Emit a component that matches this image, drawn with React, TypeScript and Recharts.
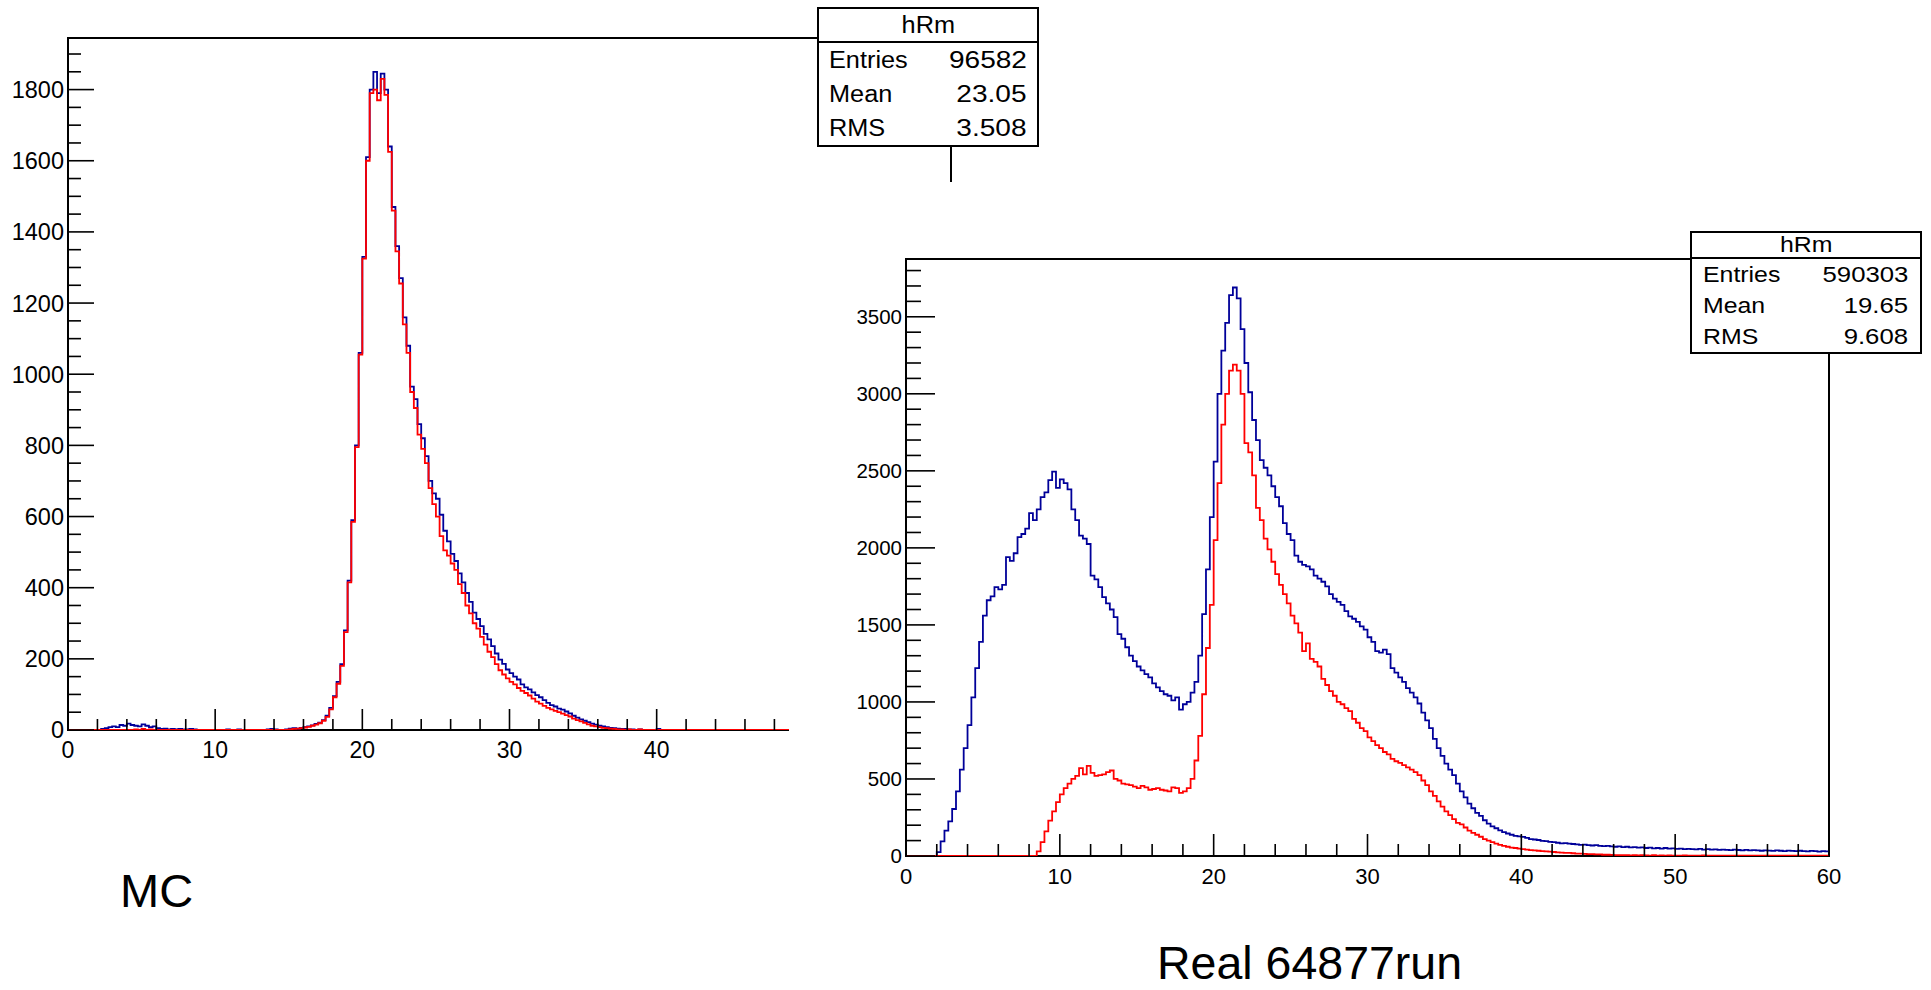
import React from "react";
import { LineChart, Line, XAxis, YAxis, ReferenceArea } from "recharts";

// bin width of both histograms, x runs 0..60
const BIN = 0.25;
const X_MAX = 60;

// MC sample (left pad), one value per bin starting at x = 0
const mcBlue = [
  0, 0, 0, 0, 0, 0, 0, 0, 0, 3, 5, 8, 10, 8, 14, 12, 18, 14, 12, 10, 16, 12, 8, 10, 5, 3, 4, 2, 3, 2, 3, 2, 2, 3, 2, 0, 0, 0, 0, 0,
  0, 0, 0, 2, 0, 0, 2, 0, 0, 0, 0, 0, 0, 0, 2, 3, 2, 0, 0, 2, 4, 5, 4, 6, 8, 10, 13, 17, 21, 28, 40, 62, 95, 135, 185, 280, 420, 590, 800, 1060,
  1330, 1610, 1800, 1850, 1790, 1845, 1800, 1640, 1470, 1360, 1270, 1160, 1080, 965, 930, 860, 820, 770, 700, 665, 650, 605, 560, 530, 495, 475, 440, 415, 385, 360, 330, 312, 292, 270, 255, 236, 215, 198, 186, 170,
  160, 150, 142, 128, 120, 114, 106, 98, 92, 84, 76, 70, 66, 60, 57, 52, 47, 40, 35, 30, 26, 22, 18, 15, 12, 10, 8, 6, 5, 4, 3, 3, 2, 2, 0, 2, 0, 0, 0, 0,
  3, 0, 0, 0, 0, 0, 0, 0, 0, 0, 0, 0, 0, 0, 0, 0, 0, 0, 0, 0, 0, 0, 0, 0, 0, 0, 0, 0, 0, 0, 0, 0, 0, 0, 0, 0, 0, 0, 0, 0,
  0, 0, 0, 0, 0, 0, 0, 0, 0, 0, 0, 0, 0, 0, 0, 0, 0, 0, 0, 0, 0, 0, 0, 0, 0, 0, 0, 0, 0, 0, 0, 0, 0, 0, 0, 0, 0, 0, 0, 0,
];
const mcRed = [
  0, 0, 0, 0, 0, 0, 0, 0, 0, 0, 0, 0, 0, 0, 0, 0, 0, 0, 2, 0, 3, 0, 2, 0, 0, 0, 0, 0, 0, 0, 0, 0, 0, 0, 0, 0, 0, 0, 0, 0,
  0, 0, 0, 0, 0, 0, 0, 0, 0, 0, 0, 0, 0, 0, 0, 0, 0, 0, 0, 0, 2, 3, 4, 5, 7, 9, 12, 15, 19, 26, 37, 58, 92, 130, 180, 275, 415, 585, 795, 1055,
  1325, 1600, 1790, 1800, 1770, 1830, 1785, 1625, 1460, 1345, 1255, 1140, 1060, 950, 905, 830, 790, 750, 680, 635, 600, 545, 505, 490, 468, 450, 410, 385, 350, 328, 300, 285, 262, 240, 220, 205, 185, 168, 156, 145,
  135, 128, 118, 110, 104, 97, 88, 80, 74, 68, 62, 58, 54, 50, 46, 42, 38, 32, 28, 24, 20, 16, 12, 10, 8, 6, 5, 4, 3, 2, 2, 0, 2, 0, 0, 2, 0, 0, 0, 0,
  0, 0, 0, 0, 0, 0, 0, 0, 0, 0, 0, 0, 0, 0, 0, 0, 0, 0, 0, 0, 0, 0, 0, 0, 0, 0, 0, 0, 0, 0, 0, 0, 0, 0, 0, 0, 0, 0, 0, 0,
  0, 0, 0, 0, 0, 0, 0, 0, 0, 0, 0, 0, 0, 0, 0, 0, 0, 0, 0, 0, 0, 0, 0, 0, 0, 0, 0, 0, 0, 0, 0, 0, 0, 0, 0, 0, 0, 0, 0, 0,
];

// real data, run 64877 (right pad)
const realBlue = [
  0, 0, 0, 0, 0, 0, 0, 0, 25, 95, 165, 225, 305, 420, 560, 700, 850, 1030, 1220, 1390, 1560, 1660, 1685, 1745, 1730, 1760, 1940, 1915, 1965, 2070, 2090, 2125, 2225, 2180, 2250, 2330, 2360, 2440, 2495, 2390,
  2445, 2420, 2380, 2250, 2180, 2080, 2060, 2025, 1820, 1795, 1745, 1680, 1640, 1600, 1550, 1440, 1410, 1355, 1300, 1265, 1230, 1205, 1180, 1160, 1120, 1095, 1070, 1050, 1040, 1010, 1030, 950, 985, 1000, 1060, 1130, 1300, 1570, 1860, 2200,
  2560, 3000, 3280, 3460, 3640, 3690, 3620, 3420, 3200, 3010, 2830, 2700, 2570, 2520, 2470, 2400, 2330, 2270, 2160, 2090, 2050, 1950, 1910, 1890, 1880, 1860, 1820, 1800, 1780, 1750, 1700, 1670, 1650, 1630, 1590, 1555, 1540, 1520, 1490, 1470,
  1420, 1390, 1330, 1320, 1340, 1310, 1220, 1190, 1160, 1130, 1090, 1060, 1030, 990, 930, 880, 830, 760, 700, 650, 600, 560, 525, 470, 420, 380, 340, 310, 280, 260, 232, 210, 192, 180, 166, 155, 146, 138, 131, 128,
  124, 118, 110, 107, 104, 98, 96, 92, 90, 86, 82, 84, 80, 78, 76, 72, 74, 70, 68, 70, 66, 64, 66, 62, 60, 62, 58, 60, 56, 58, 54, 56, 52, 54, 50, 52, 48, 52, 48, 50,
  46, 48, 44, 46, 45, 43, 46, 42, 44, 41, 43, 40, 42, 40, 38, 41, 39, 37, 40, 36, 38, 36, 34, 37, 35, 33, 36, 34, 32, 35, 33, 31, 34, 32, 30, 33, 31, 29, 32, 30,
];
const realRed = [
  0, 0, 0, 0, 0, 0, 0, 0, 0, 0, 0, 0, 0, 0, 0, 0, 0, 0, 0, 0, 0, 0, 0, 0, 0, 0, 0, 0, 0, 0, 0, 0, 0, 0, 30, 90, 160, 230, 290, 350,
  400, 440, 470, 500, 520, 570, 530, 585, 540, 520, 525, 530, 545, 555, 500, 490, 470, 465, 460, 450, 440, 455, 445, 430, 435, 440, 430, 425, 420, 445, 440, 410, 420, 440, 500, 620, 780, 1050, 1350, 1630,
  2050, 2420, 2800, 3000, 3150, 3190, 3150, 3000, 2680, 2620, 2470, 2260, 2180, 2060, 1990, 1910, 1830, 1760, 1700, 1640, 1560, 1510, 1450, 1330, 1380, 1280, 1260, 1230, 1150, 1110, 1070, 1040, 1000, 985, 960, 940, 890, 865, 830, 810,
  770, 745, 720, 700, 675, 660, 630, 615, 605, 590, 575, 560, 545, 525, 490, 460, 420, 390, 355, 320, 290, 265, 240, 215, 205, 185, 165, 150, 138, 125, 110, 100, 90, 80, 72, 66, 60, 55, 52, 48,
  44, 42, 38, 36, 34, 32, 30, 28, 26, 24, 22, 20, 20, 18, 16, 15, 14, 12, 12, 10, 10, 8, 8, 7, 6, 6, 5, 6, 4, 5, 4, 5, 4, 3, 5, 3, 4, 3, 4, 3,
  3, 2, 4, 3, 2, 3, 2, 4, 3, 2, 3, 2, 2, 3, 2, 3, 2, 2, 3, 2, 2, 3, 2, 2, 2, 3, 2, 2, 3, 2, 2, 2, 3, 2, 2, 2, 3, 2, 2, 2,
];

const xTicks = [0, 2, 4, 6, 8, 10, 12, 14, 16, 18, 20, 22, 24, 26, 28, 30, 32, 34, 36, 38, 40, 42, 44, 46, 48, 50, 52, 54, 56, 58, 60];
const mcYTicks = [
  0, 50, 100, 150, 200, 250, 300, 350, 400, 450, 500, 550, 600, 650, 700, 750, 800, 850, 900, 950,
  1000, 1050, 1100, 1150, 1200, 1250, 1300, 1350, 1400, 1450, 1500, 1550, 1600, 1650, 1700, 1750, 1800, 1850, 1900,
];
const realYTicks = [
  0, 100, 200, 300, 400, 500, 600, 700, 800, 900, 1000, 1100, 1200, 1300, 1400, 1500, 1600, 1700, 1800, 1900,
  2000, 2100, 2200, 2300, 2400, 2500, 2600, 2700, 2800, 2900, 3000, 3100, 3200, 3300, 3400, 3500, 3600, 3700, 3800,
];

const mcStats = [["Entries", "96582"], ["Mean", "23.05"], ["RMS", "3.508"]];
const realStats = [["Entries", "590303"], ["Mean", "19.65"], ["RMS", "9.608"]];

const FONT = '"Liberation Sans", Arial, Helvetica, sans-serif';
const BLUE = "#000099";
const RED = "#ff0000";

const toRows = (blue: number[], red: number[]) => {
  const rows = blue.map((b, i) => ({ x: i * BIN, blue: b, red: red[i] }));
  // closing edge of the last bin
  rows.push({ x: X_MAX, blue: blue[blue.length - 1], red: red[red.length - 1] });
  return rows;
};

const makeYTick = (major: number, majorLen: number, minorLen: number, fontSize: number) => (props: any) => {
  const { x, y, payload } = props;
  const isMajor = payload.value % major === 0;
  return (
    <g>
      <line x1={x} y1={y} x2={x + (isMajor ? majorLen : minorLen)} y2={y} stroke="#000" strokeWidth={1.6} />
      {isMajor && (
        <text x={x - 4} y={y} dy="0.36em" textAnchor="end" fontSize={fontSize} fontFamily={FONT} fill="#000">
          {payload.value}
        </text>
      )}
    </g>
  );
};

const makeXTick = (major: number, majorLen: number, minorLen: number, fontSize: number) => (props: any) => {
  const { x, y, payload } = props;
  const isMajor = payload.value % major === 0;
  return (
    <g>
      <line x1={x} y1={y} x2={x} y2={y - (isMajor ? majorLen : minorLen)} stroke="#000" strokeWidth={1.6} />
      {isMajor && (
        <text x={x} y={y + 20} dy="0.36em" textAnchor="middle" fontSize={fontSize} fontFamily={FONT} fill="#000">
          {payload.value}
        </text>
      )}
    </g>
  );
};

interface PanelProps {
  blue: number[];
  red: number[];
  yMax: number;
  yTicks: number[];
  yMajor: number;
  width: number;
  height: number;
  margin: { top: number; right: number; bottom: number; left: number };
  yTickLen: [number, number];
  xTickLen: [number, number];
  yFont: number;
  xFont: number;
}

// axes are 1px thick so they still render; margins are reduced by that pixel
function HistPanel(p: PanelProps) {
  return (
    <LineChart width={p.width} height={p.height} data={toRows(p.blue, p.red)} margin={p.margin}>
      <XAxis
        type="number"
        dataKey="x"
        domain={[0, X_MAX]}
        ticks={xTicks}
        interval={0}
        height={1}
        tickSize={0}
        tickMargin={0}
        axisLine={false}
        allowDataOverflow
        tick={makeXTick(10, p.xTickLen[0], p.xTickLen[1], p.xFont)}
      />
      <YAxis
        type="number"
        domain={[0, p.yMax]}
        ticks={p.yTicks}
        interval={0}
        width={1}
        tickSize={0}
        tickMargin={0}
        axisLine={false}
        allowDataOverflow
        tick={makeYTick(p.yMajor, p.yTickLen[0], p.yTickLen[1], p.yFont)}
      />
      <ReferenceArea x1={0} x2={X_MAX} y1={0} y2={p.yMax} fill="none" stroke="#000" strokeWidth={2} fillOpacity={0} />
      <Line type="stepAfter" dataKey="blue" stroke={BLUE} strokeWidth={1.8} dot={false} activeDot={false} isAnimationActive={false} />
      <Line type="stepAfter" dataKey="red" stroke={RED} strokeWidth={1.8} dot={false} activeDot={false} isAnimationActive={false} />
    </LineChart>
  );
}

function StatBox(props: {
  rows: string[][];
  left: number;
  top: number;
  width: number;
  headerH: number;
  rowH: number;
  fontSize: number;
  pad: string;
  keyScale: number;
  valScale: number;
}) {
  return (
    <div
      style={{
        position: "absolute",
        left: props.left,
        top: props.top,
        width: props.width,
        border: "2px solid #000",
        background: "#fff",
        boxSizing: "border-box",
        fontFamily: FONT,
        fontSize: props.fontSize,
        color: "#000",
      }}
    >
      <div style={{ height: props.headerH, lineHeight: props.headerH + "px", textAlign: "center", borderBottom: "2px solid #000" }}>
        <span style={{ display: "inline-block", transform: `scaleX(${props.keyScale})` }}>hRm</span>
      </div>
      {props.rows.map(([k, v]) => (
        <div key={k} style={{ display: "flex", justifyContent: "space-between", height: props.rowH, lineHeight: props.rowH + "px", padding: props.pad }}>
          <span style={{ display: "inline-block", transform: `scaleX(${props.keyScale})`, transformOrigin: "left center" }}>{k}</span>
          <span style={{ display: "inline-block", transform: `scaleX(${props.valScale})`, transformOrigin: "right center" }}>{v}</span>
        </div>
      ))}
    </div>
  );
}

export default function App() {
  return (
    <div style={{ position: "fixed", left: 0, top: 0, width: 1931, height: 990, background: "#fff", overflow: "hidden" }}>
      {/* left canvas: MC */}
      <div style={{ position: "absolute", left: 0, top: 0 }}>
        <HistPanel
          blue={mcBlue}
          red={mcRed}
          yMax={1945}
          yTicks={mcYTicks}
          yMajor={200}
          width={1000}
          height={800}
          margin={{ top: 38, right: 49, bottom: 69, left: 67 }}
          yTickLen={[26, 13]}
          xTickLen={[21, 11]}
          yFont={23.5}
          xFont={23}
        />
      </div>
      <StatBox rows={mcStats} left={817} top={7} width={222} headerH={32} rowH={34} fontSize={23} pad="0 10px" keyScale={1.1} valScale={1.22} />
      <div style={{ position: "absolute", left: 120, top: 868, fontFamily: FONT, fontSize: 47, lineHeight: "46px", color: "#000" }}>MC</div>

      {/* right canvas sits on top of the left one */}
      <div style={{ position: "absolute", left: 789, top: 182, right: 0, bottom: 0, background: "#fff" }} />
      <div style={{ position: "absolute", left: 0, top: 0 }}>
        <HistPanel
          blue={realBlue}
          red={realRed}
          yMax={3875}
          yTicks={realYTicks}
          yMajor={500}
          width={1931}
          height={990}
          margin={{ top: 259, right: 102, bottom: 133, left: 905 }}
          yTickLen={[29, 15]}
          xTickLen={[22, 12]}
          yFont={20.5}
          xFont={22}
        />
      </div>
      <StatBox rows={realStats} left={1690} top={231} width={232} headerH={24} rowH={31} fontSize={22} pad="0 12px 0 11px" keyScale={1.13} valScale={1.17} />
      <div style={{ position: "absolute", left: 1157, top: 943, fontFamily: FONT, fontSize: 46.5, lineHeight: "40px", color: "#000" }}>Real 64877run</div>
    </div>
  );
}
